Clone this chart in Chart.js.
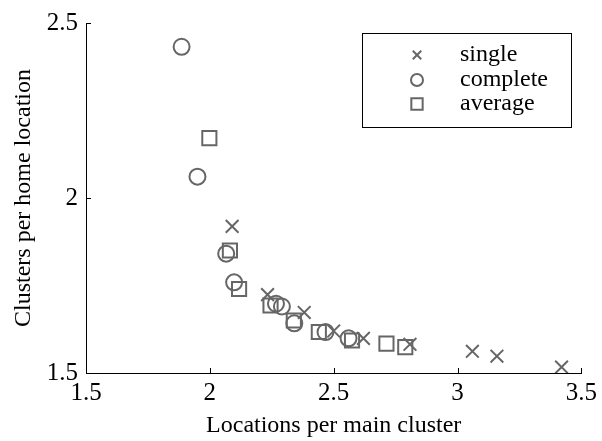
<!DOCTYPE html>
<html>
<head>
<meta charset="utf-8">
<script src="https://cdn.jsdelivr.net/npm/chart.js@4.4.0/dist/chart.umd.min.js"></script>
<style>
html, body { margin: 0; padding: 0; background: #fff; }
</style>
</head>
<body>
<canvas id="chart1" width="602" height="441"></canvas>
<script>
const seriesNames = ['single', 'complete', 'average'];

const singleX = [2.09, 2.233, 2.381, 2.50, 2.62, 2.808, 3.06, 3.159, 3.42];
const singleY = [1.919, 1.724, 1.673, 1.620, 1.599, 1.582, 1.562, 1.548, 1.517];

const completeX = [1.886, 1.950, 2.066, 2.098, 2.267, 2.291, 2.341, 2.467, 2.560];
const completeY = [2.432, 2.061, 1.841, 1.759, 1.698, 1.690, 1.642, 1.617, 1.599];

const averageX = [1.998, 2.081, 2.118, 2.245, 2.339, 2.440, 2.574, 2.713, 2.789];
const averageY = [2.171, 1.850, 1.740, 1.693, 1.650, 1.617, 1.593, 1.584, 1.574];

const xTicks = [1.5, 2, 2.5, 3, 3.5];
const yTicks = [1.5, 2, 2.5];

const fontFamily = '"Liberation Serif", "Times New Roman", serif';
const markColor = '#666666';

function toPoints(xs, ys) {
    return xs.map((x, i) => ({ x: x, y: ys[i] }));
}

// small ticks pointing into the plot, like the original
const innerTicks = {
    id: 'innerTicks',
    afterDraw(chart) {
        const ctx = chart.ctx;
        const area = chart.chartArea;
        const xs = chart.scales.x;
        const ys = chart.scales.y;
        ctx.save();
        ctx.strokeStyle = '#000';
        ctx.lineWidth = 1;
        ctx.beginPath();
        xTicks.forEach(v => {
            const px = Math.round(xs.getPixelForValue(v)) + 0.5;
            ctx.moveTo(px, area.bottom);
            ctx.lineTo(px, area.bottom - 5);
        });
        yTicks.forEach(v => {
            const py = Math.round(ys.getPixelForValue(v)) + 0.5;
            ctx.moveTo(area.left, py);
            ctx.lineTo(area.left + 5, py);
        });
        ctx.stroke();
        ctx.restore();
    }
};

// boxed legend inside the plot, top right
const boxLegend = {
    id: 'boxLegend',
    afterDraw(chart) {
        const ctx = chart.ctx;
        ctx.save();
        ctx.strokeStyle = '#000';
        ctx.lineWidth = 1;
        ctx.strokeRect(362.5, 33.5, 209, 94);
        ctx.font = '24px ' + fontFamily;
        ctx.textBaseline = 'middle';
        const rows = [55, 80, 104];
        chart.data.datasets.forEach((ds, i) => {
            ctx.strokeStyle = ds.borderColor;
            ctx.fillStyle = 'rgba(0,0,0,0)';
            ctx.lineWidth = 2;
            Chart.helpers.drawPoint(ctx, { pointStyle: ds.pointStyle, radius: ds.legendRadius, rotation: 0, borderWidth: 2 }, 417, rows[i]);
            ctx.fillStyle = '#000';
            ctx.fillText(ds.label, 460, rows[i]);
        });
        ctx.restore();
    }
};

const ctx1 = document.getElementById('chart1').getContext('2d');
const chart1 = new Chart(ctx1, {
    type: 'scatter',
    data: {
        datasets: [{
            label: seriesNames[0],
            data: toPoints(singleX, singleY),
            pointStyle: 'crossRot',
            pointRadius: 9,
            legendRadius: 6,
            borderColor: markColor,
            backgroundColor: 'rgba(0,0,0,0)',
            borderWidth: 2
        }, {
            label: seriesNames[1],
            data: toPoints(completeX, completeY),
            pointStyle: 'circle',
            pointRadius: 8,
            legendRadius: 6,
            borderColor: markColor,
            backgroundColor: 'rgba(0,0,0,0)',
            borderWidth: 2
        }, {
            label: seriesNames[2],
            data: toPoints(averageX, averageY),
            pointStyle: 'rect',
            pointRadius: 10,
            legendRadius: 8,
            borderColor: markColor,
            backgroundColor: 'rgba(0,0,0,0)',
            borderWidth: 2
        }]
    },
    options: {
        responsive: false,
        animation: false,
        layout: { padding: { left: 0, right: 18, top: 20, bottom: 0 } },
        plugins: {
            legend: { display: false },
            tooltip: { enabled: false }
        },
        scales: {
            x: {
                type: 'linear',
                min: 1.5,
                max: 3.5,
                afterBuildTicks: s => { s.ticks = xTicks.map(v => ({ value: v })); },
                afterFit: s => { s.height = 68; },
                grid: { display: false, drawTicks: false },
                border: { display: true, color: '#000', width: 1 },
                ticks: {
                    color: '#000',
                    padding: 5,
                    maxRotation: 0,
                    font: { family: fontFamily, size: 25 },
                    callback: v => String(v)
                },
                title: {
                    display: true,
                    text: 'Locations per main cluster',
                    color: '#000',
                    font: { family: fontFamily, size: 24 },
                    padding: { top: 0, bottom: 1 }
                }
            },
            y: {
                type: 'linear',
                min: 1.5,
                max: 2.5,
                afterBuildTicks: s => { s.ticks = yTicks.map(v => ({ value: v })); },
                afterFit: s => { s.width = 86; },
                grid: { display: false, drawTicks: false },
                border: { display: true, color: '#000', width: 1 },
                ticks: {
                    color: '#000',
                    padding: 8,
                    font: { family: fontFamily, size: 25 },
                    callback: v => String(v)
                },
                title: {
                    display: true,
                    text: 'Clusters per home location',
                    color: '#000',
                    font: { family: fontFamily, size: 24 },
                    padding: { top: 9, bottom: 0 }
                }
            }
        }
    },
    plugins: [innerTicks, boxLegend]
});
</script>
</body>
</html>
